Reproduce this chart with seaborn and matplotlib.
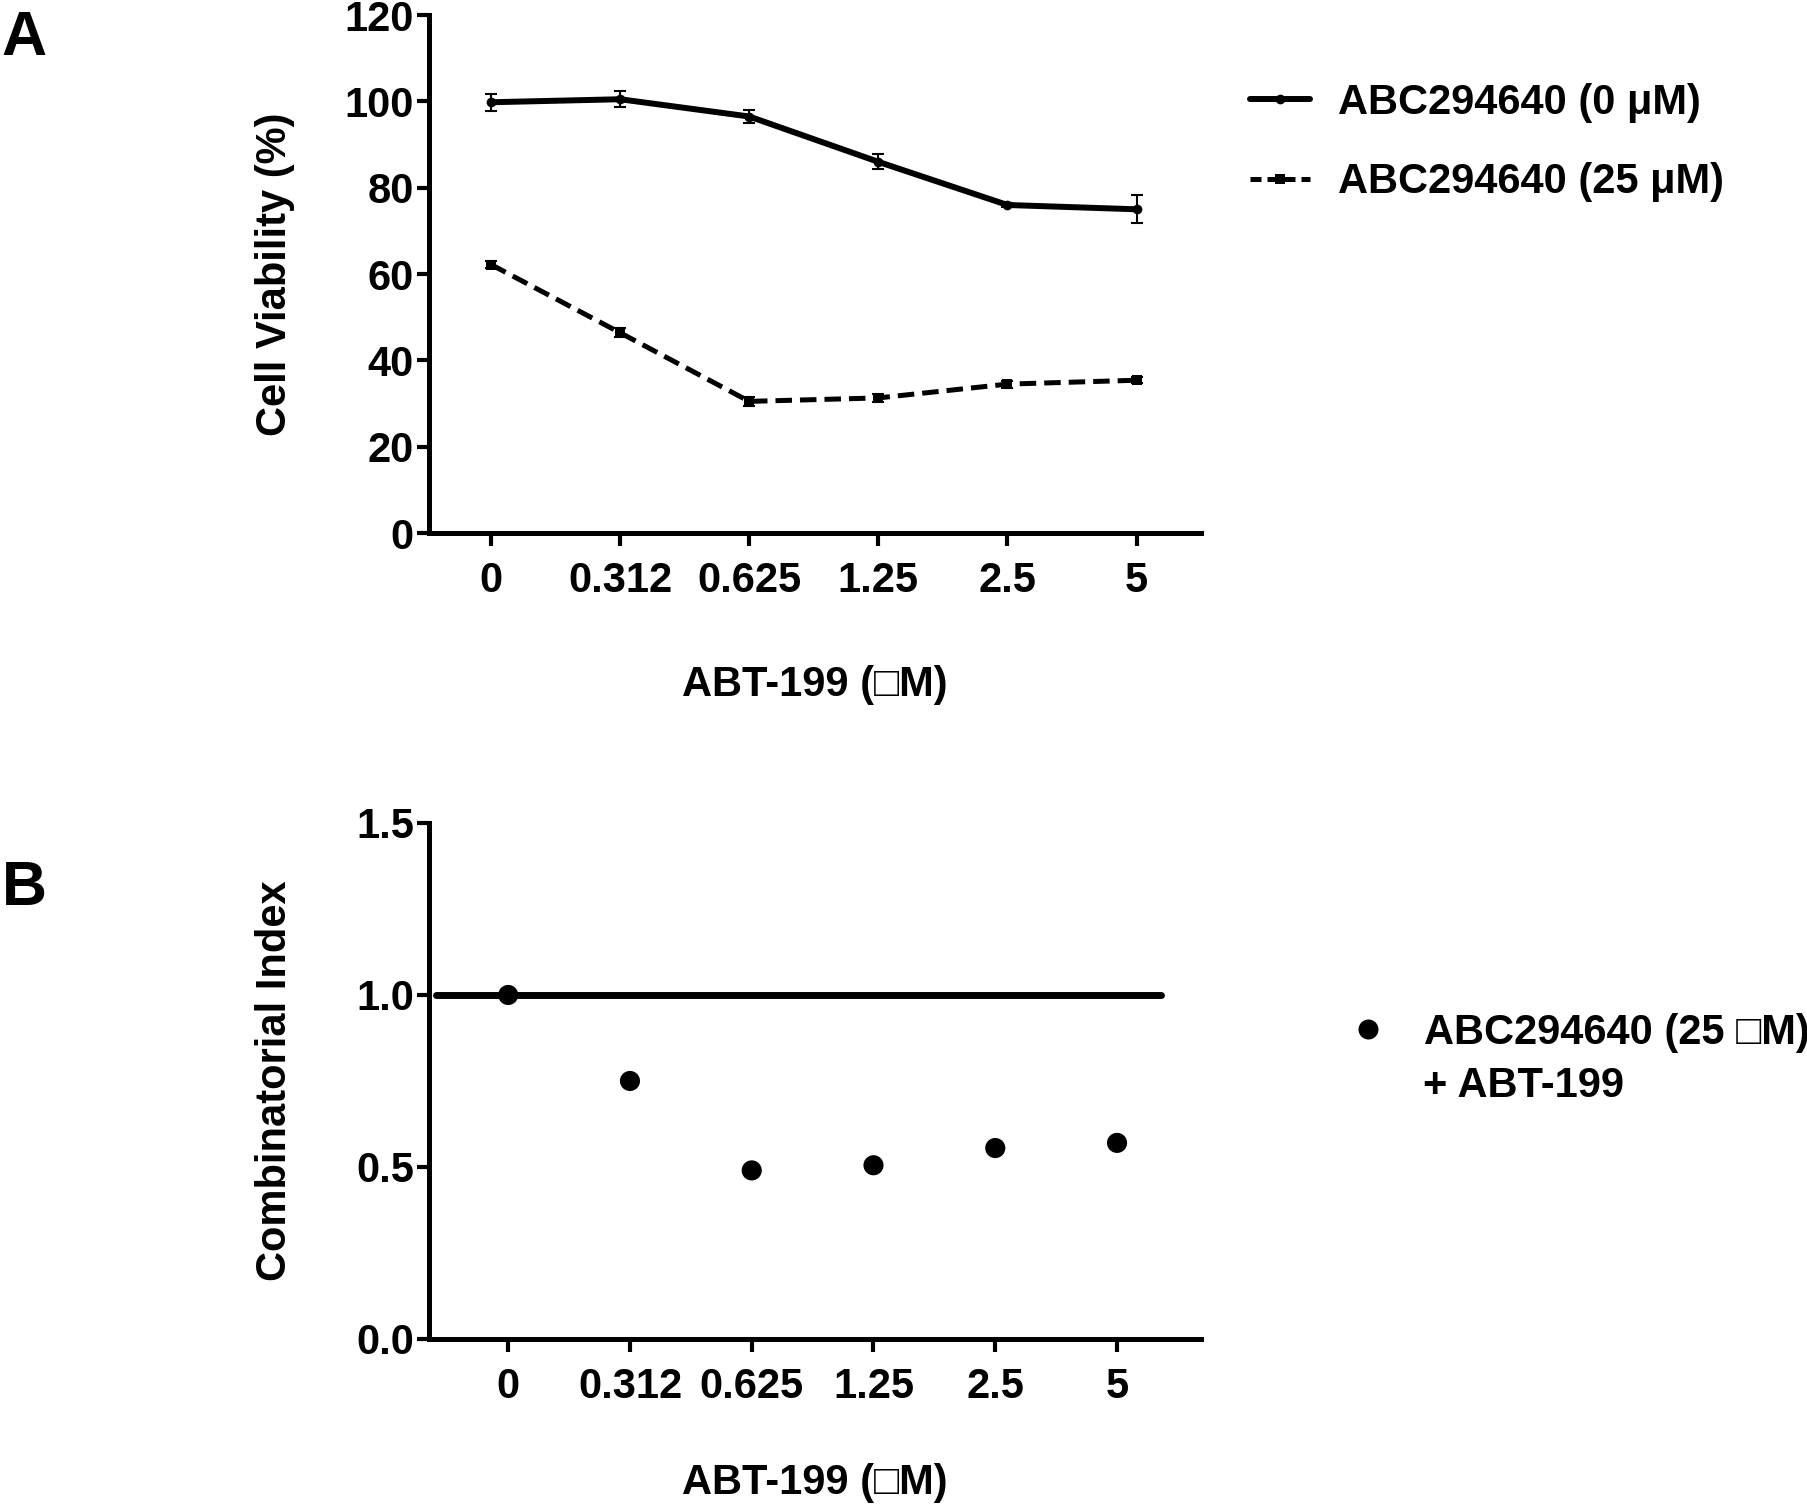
import numpy as np
import pandas as pd
import seaborn as sns
import matplotlib
matplotlib.use("Agg")
import matplotlib.pyplot as plt
from matplotlib.lines import Line2D

# data
doses = ["0", "0.312", "0.625", "1.25", "2.5", "5"]
via_0uM = [99.8, 100.5, 96.5, 86.0, 76.0, 75.0]
err_0uM = [2.0, 1.8, 1.4, 1.7, 0.5, 3.2]
via_25uM = [62.2, 46.4, 30.5, 31.3, 34.5, 35.4]
err_25uM = [0.8, 1.0, 1.0, 1.0, 0.8, 0.7]
ci_values = [1.0, 0.75, 0.49, 0.505, 0.555, 0.57]

sns.set_style("ticks")
plt.rcParams['font.family'] = ['Liberation Sans', 'DejaVu Sans']
plt.rcParams['font.weight'] = 'bold'
plt.rcParams['axes.labelweight'] = 'bold'
plt.rcParams['text.color'] = 'black'
plt.rcParams['axes.labelcolor'] = 'black'
plt.rcParams['xtick.color'] = 'black'
plt.rcParams['ytick.color'] = 'black'

pos = np.arange(len(doses))
df_a = pd.DataFrame({
    "pos": np.concatenate([pos, pos]),
    "via": via_0uM + via_25uM,
    "grp": ["ABC294640 (0 μM)"] * 6 + ["ABC294640 (25 μM)"] * 6,
})
df_b = pd.DataFrame({"pos": pos, "ci": ci_values})

fig = plt.figure(figsize=(18.08, 15.07), dpi=100)
ax1 = fig.add_axes([0.2373, 0.6463, 0.427, 0.3437])
ax2 = fig.add_axes([0.2373, 0.1115, 0.427, 0.3424])

fs = 30
spine_w = 3.6

# panel A
sub0 = df_a[df_a.grp == "ABC294640 (0 μM)"]
sub25 = df_a[df_a.grp == "ABC294640 (25 μM)"]
sns.lineplot(data=sub0, x="pos", y="via", ax=ax1, color="black", lw=4.3,
             marker="o", markersize=7, markeredgewidth=0)
sns.lineplot(data=sub25, x="pos", y="via", ax=ax1, color="black", lw=3.6,
             marker="s", markersize=6.5, markeredgewidth=0, dashes=False)
ax1.lines[-1].set_dashes((3.3, 1.6))
ax1.errorbar(pos, via_0uM, yerr=err_0uM, fmt="none", ecolor="black",
             elinewidth=1.5, capsize=4, capthick=1.5)
ax1.errorbar(pos, via_25uM, yerr=err_25uM, fmt="none", ecolor="black",
             elinewidth=1.5, capsize=4, capthick=1.5)
ax1.set_xlim(-0.48, 5.5)
ax1.set_ylim(0, 120)
ax1.set_yticks([0, 20, 40, 60, 80, 100, 120])
ax1.set_xticks(pos)
ax1.set_xticklabels(doses)
ax1.set_xlabel("ABT-199 (\u25a1M)", fontsize=fs, fontweight="bold")
ax1.set_ylabel("Cell Viability (%)", fontsize=fs, fontweight="bold")
ax1.xaxis.set_label_coords(0.5, -0.255)
ax1.yaxis.set_label_coords(-0.174, 0.5)

h0 = Line2D([], [], color="black", lw=4.3, marker="o", markersize=7, markeredgewidth=0)
h25 = Line2D([], [], color="black", lw=3.6, marker="s", markersize=7,
             markeredgewidth=0, dashes=(2.2, 1.2))
ax1.legend([h0, h25], ["ABC294640 (0 μM)", "ABC294640 (25 μM)"],
           loc="upper left", bbox_to_anchor=(0.6914, 0.945),
           bbox_transform=fig.transFigure, frameon=False,
           prop={"weight": "bold", "size": fs}, handlelength=1.45,
           handletextpad=0.65, labelspacing=0.95, borderpad=0, borderaxespad=0)

# panel B
sns.scatterplot(data=df_b, x="pos", y="ci", ax=ax2, color="black", s=210,
                edgecolor="none", zorder=3)
ax2.plot([-0.59, 5.36], [1, 1], color="black", lw=5, solid_capstyle="round", zorder=2)
ax2.set_xlim(-0.65, 5.69)
ax2.set_ylim(0, 1.5)
ax2.set_yticks([0.0, 0.5, 1.0, 1.5])
ax2.set_yticklabels(["0.0", "0.5", "1.0", "1.5"])
ax2.set_xticks(pos)
ax2.set_xticklabels(doses)
ax2.set_xlabel("ABT-199 (\u25a1M)", fontsize=fs, fontweight="bold")
ax2.set_ylabel("Combinatorial Index", fontsize=fs, fontweight="bold")
ax2.xaxis.set_label_coords(0.5, -0.24)
ax2.yaxis.set_label_coords(-0.174, 0.5)

hb = Line2D([], [], color="black", lw=0, marker="o", markersize=14.4, markeredgewidth=0)
ax2.legend([hb], ["ABC294640 (25 \u25a1M)"], loc="center left",
           bbox_to_anchor=(0.745, 1 - 1033 / 1507), bbox_transform=fig.transFigure,
           frameon=False, prop={"weight": "bold", "size": fs}, handlelength=1.0,
           handletextpad=0.85, borderpad=0, borderaxespad=0)
fig.text(1423 / 1808, 1 - 1086 / 1507, "+ ABT-199", fontsize=fs, fontweight="bold",
         va="center", ha="left")

for ax in (ax1, ax2):
    sns.despine(ax=ax)
    for s in ("left", "bottom"):
        ax.spines[s].set_linewidth(spine_w)
        ax.spines[s].set_color("black")
    ax.tick_params(axis="both", width=3, length=9, color="black", labelsize=fs,
                   labelcolor="black")
    ax.tick_params(axis="x", pad=11)
    ax.tick_params(axis="y", pad=2)
    for lab in ax.get_xticklabels() + ax.get_yticklabels():
        lab.set_fontweight("bold")
    ax.grid(False)

fig.text(0.001, 1 - 55 / 1507, "A", fontsize=45, fontweight="bold", va="baseline")
fig.text(0.001, 1 - 905 / 1507, "B", fontsize=45, fontweight="bold", va="baseline")

fig.savefig("out.png", dpi=100)
